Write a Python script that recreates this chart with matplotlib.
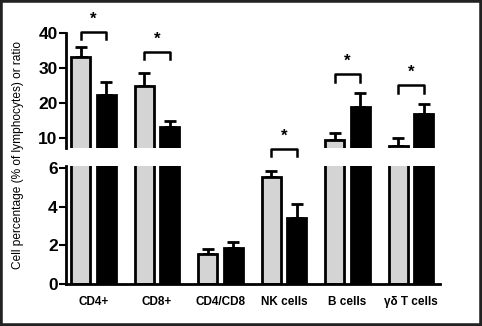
import numpy as np
import matplotlib.pyplot as plt
from matplotlib.patches import Rectangle

plt.rcParams['font.family'] = ['Liberation Sans', 'DejaVu Sans']

categories = ['CD4+', 'CD8+', 'CD4/CD8', 'NK cells', 'B cells', 'γδ T cells']
grey_vals = [33.2, 24.8, 1.54, 5.55, 9.4, 7.9]
grey_err = [2.8, 3.8, 0.27, 0.31, 2.0, 2.3]
black_vals = [22.4, 13.1, 1.88, 3.40, 18.9, 16.9]
black_err = [3.6, 1.9, 0.31, 0.74, 4.1, 2.8]

# significance brackets: (group index, bracket height, panel)
sig_groups = [0, 1, 3, 4, 5]
sig_heights = [40.5, 34.7, 6.97, 28.4, 25.2]
sig_panel = ['top', 'top', 'bottom', 'top', 'top']

top_ticks = [10, 20, 30, 40]
bottom_ticks = [0, 2, 4, 6]

fig = plt.figure(figsize=(4.82, 3.26), dpi=100)
ax_top = fig.add_axes([0.137, 0.546, 0.776, 0.352])
ax_bot = fig.add_axes([0.137, 0.129, 0.776, 0.362])

x = np.arange(len(categories))
w = 0.3
off = 0.2

for ax in (ax_top, ax_bot):
    ax.errorbar(x - off, grey_vals, yerr=[np.zeros(len(x)), grey_err], fmt='none',
                ecolor='black', elinewidth=2, capsize=4, capthick=2, zorder=1)
    ax.errorbar(x + off, black_vals, yerr=[np.zeros(len(x)), black_err], fmt='none',
                ecolor='black', elinewidth=2, capsize=4, capthick=2, zorder=1)
    ax.bar(x - off, grey_vals, w, color='#d4d4d4', edgecolor='black', linewidth=2, zorder=2)
    ax.bar(x + off, black_vals, w, color='black', edgecolor='black', linewidth=2, zorder=2)
    ax.set_xlim(-0.433, 5.46)
    for s in ['top', 'right']:
        ax.spines[s].set_visible(False)
    ax.spines['left'].set_linewidth(2)
    ax.tick_params(axis='y', length=5, width=1.5, labelsize=12.5, pad=1)

ax_top.set_ylim(7.2, 40)
ax_top.set_yticks(top_ticks)
ax_top.spines['bottom'].set_visible(False)
ax_top.set_xticks([])

ax_bot.set_ylim(0, 6.1)
ax_bot.set_yticks(bottom_ticks)
ax_bot.spines['bottom'].set_linewidth(2)
ax_bot.set_xticks(x)
ax_bot.set_xticklabels(categories, fontsize=8.5, fontweight='bold')
ax_bot.tick_params(axis='x', length=0, pad=9)

for ax in (ax_top, ax_bot):
    for lab in ax.get_yticklabels():
        lab.set_fontweight('bold')

for g, h, p in zip(sig_groups, sig_heights, sig_panel):
    ax = ax_top if p == 'top' else ax_bot
    drop = 2.2 if p == 'top' else 0.38
    star = 3.6 if p == 'top' else 0.65
    ax.plot([g - off, g - off, g + off, g + off], [h - drop, h, h, h - drop],
            color='black', lw=1.8, clip_on=False, zorder=3)
    ax.text(g, h + star, '*', ha='center', va='center', fontsize=12, fontweight='bold')

fig.text(0.038, 0.525, 'Cell percentage (% of lymphocytes) or ratio', rotation=90,
         ha='center', va='center', fontsize=8.6)

fig.patches.append(Rectangle((0, 0), 1, 1, transform=fig.transFigure, fill=False,
                             edgecolor='#222222', linewidth=4))

fig.savefig('out.png', dpi=100)
